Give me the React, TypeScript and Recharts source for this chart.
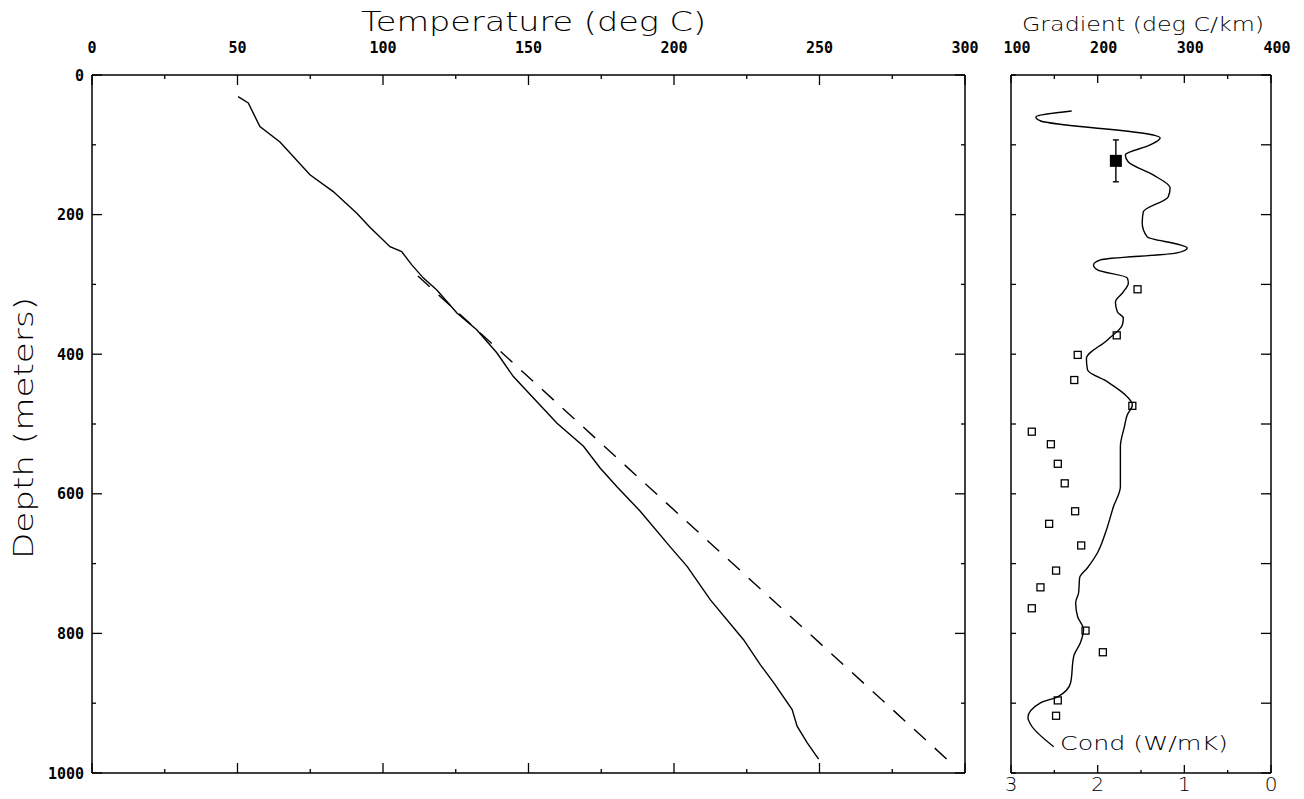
import React from 'react';
import { ErrorBar, Scatter, ScatterChart, XAxis, YAxis } from 'recharts';

const W = 1304;
const H = 799;

// temperature log (deg C vs depth m)
const tempDeg = [50.2, 53.7, 57.7, 64.6, 74.9, 82.9, 91.0, 95.5, 102.4, 106.4, 109.9, 113.9, 118.5, 125.4, 132.2, 139.1, 144.8, 152.9, 159.8, 168.9, 174.6, 180.4, 188.4, 198.7, 204.5, 212.5, 223.9, 229.7, 234.3, 240.6, 242.3, 245.8, 249.7];
const tempDepth = [31, 40, 74, 96, 143, 167, 198, 218, 246, 253, 272, 291, 308, 341, 365, 398, 432, 468, 499, 532, 563, 590, 625, 676, 704, 752, 809, 845, 871, 909, 933, 957, 980];

// straight fit (dashed)
const fitDeg = [112, 294.5];
const fitDepth = [288, 983];

// gradient log (deg C/km)
const gradValue = [170.0, 128.7, 134.4, 264.0, 272.1, 260.6, 231.9, 235.4, 264.0, 283.6, 281.3, 252.6, 251.4, 257.2, 295.0, 303.3, 291.6, 203.2, 195.2, 199.8, 234.2, 235.4, 229.6, 220.5, 222.8, 229.6, 228.5, 211.3, 187.0, 188.3, 211.3, 234.2, 240.0, 234.2, 230.8, 226.2, 226.2, 226.2, 218.2, 209.0, 199.8, 188.3, 179.2, 178.0, 174.6, 176.9, 183.7, 180.3, 172.3, 168.8, 153.9, 134.4, 119.5, 122.9, 149.3];
const gradDepth = [51.6, 60.1, 65.9, 85.9, 90.2, 100.2, 114.6, 124.6, 143.2, 161.8, 174.7, 196.2, 211.9, 232, 243.4, 247.7, 254.9, 264.9, 272.1, 279.2, 290.7, 297.9, 310.8, 325.1, 339.4, 348, 358, 379.5, 406.5, 422.4, 439.6, 461.1, 472.6, 486.9, 504.1, 532.7, 561.4, 590, 618.6, 655.9, 684.5, 706, 720.3, 741.8, 756.1, 776.2, 794.5, 812.8, 833.2, 870.7, 890.8, 899.3, 920.8, 930.9, 962.3];

// conductivity samples (W/mK)
const condValue = [1.54, 1.78, 2.23, 2.27, 1.6, 2.76, 2.54, 2.46, 2.38, 2.26, 2.56, 2.19, 2.48, 2.66, 2.76, 2.14, 1.94, 2.46, 2.48];
const condDepth = [307, 373, 401, 437, 474, 511, 529, 557, 585, 625, 643, 674, 710, 734, 764, 796, 827, 896, 918];

// mean gradient with depth interval
const meanGrad = [{ g: 221, d: 123, err: 30 }];

const tempTicks = [0, 25, 50, 75, 100, 125, 150, 175, 200, 225, 250, 275, 300];
const tempLabels = [0, 50, 100, 150, 200, 250, 300];
const depthTicks = [0, 100, 200, 300, 400, 500, 600, 700, 800, 900, 1000];
const depthLabels = [0, 200, 400, 600, 800, 1000];
const gradTicks = [100, 150, 200, 250, 300, 350, 400];
const gradLabels = [100, 200, 300, 400];
const condTicks = [0, 0.5, 1, 1.5, 2, 2.5, 3];
const condLabels = [0, 1, 2, 3];

const tempLog = tempDeg.map((t, i) => ({ t, d: tempDepth[i] }));
const tempFit = fitDeg.map((t, i) => ({ t, d: fitDepth[i] }));
const gradLog = gradValue.map((g, i) => ({ g, d: gradDepth[i] }));
const condPts = condValue.map((c, i) => ({ c, d: condDepth[i] }));

const mono = "'DejaVu Sans Mono', monospace";
const thin = "'DejaVu Sans', sans-serif";
const axisLine = { stroke: '#000', strokeWidth: 1.5 };

const makeTick =
  (side: string, majors: number[], labels: number[], long: number, short: number, dx = 0) =>
  (props: any) => {
    const { x, y, payload } = props;
    const v = payload.value;
    const len = majors.includes(v) ? long : short;
    let x2 = x;
    let y2 = y;
    if (side === 'top') y2 = y + len;
    if (side === 'bottom') y2 = y - len;
    if (side === 'left') x2 = x + len;
    if (side === 'right') x2 = x - len;
    let txt = null;
    if (labels.includes(v)) {
      if (side === 'top')
        txt = (
          <text x={x + dx} y={y - 22} textAnchor="middle" fontFamily={mono} fontWeight="bold" fontSize={15} fill="#000">
            {v}
          </text>
        );
      if (side === 'left')
        txt = (
          <text x={x - 8} y={y + 5.5} textAnchor="end" fontFamily={mono} fontWeight="bold" fontSize={15} fill="#000">
            {v}
          </text>
        );
      if (side === 'bottom')
        txt = (
          <text x={x} y={y + 18} textAnchor="middle" fontFamily={thin} fontWeight={200} fontSize={20} fill="#000">
            {v}
          </text>
        );
    }
    return (
      <g>
        <line x1={x} y1={y} x2={x2} y2={y2} stroke="#000" strokeWidth={1.3} />
        {txt}
      </g>
    );
  };

const noMark = () => <g />;
const openSquare = (p: any) => (
  <rect x={p.cx - 3.5} y={p.cy - 3.5} width={7} height={7} fill="none" stroke="#000" strokeWidth={1.3} />
);
const filledSquare = (p: any) => <rect x={p.cx - 6} y={p.cy - 6} width={12} height={12} fill="#000" />;

// axes are 1px thick boxes so the plot area equals the margins + 1
const axisCommon = {
  type: 'number' as const,
  interval: 0 as const,
  tickSize: 0,
  tickMargin: 0,
  tickLine: false,
  axisLine,
  allowDataOverflow: true,
};

export default function App() {
  return (
    <div style={{ position: 'absolute', left: 0, top: 0, width: W, height: H, background: '#fff' }}>
      <div style={{ position: 'absolute', left: 0, top: 0 }}>
        <ScatterChart width={W} height={H} margin={{ top: 74, right: 338, bottom: 25, left: 91 }}>
          <XAxis {...axisCommon} xAxisId="top" orientation="top" dataKey="t" domain={[0, 300]} ticks={tempTicks} height={1}
            tick={makeTick('top', tempLabels, tempLabels, 10, 4)} />
          <XAxis {...axisCommon} xAxisId="bot" orientation="bottom" dataKey="t" domain={[0, 300]} ticks={tempTicks} height={1}
            tick={makeTick('bottom', tempLabels, [], 10, 4)} />
          <YAxis {...axisCommon} yAxisId="left" orientation="left" dataKey="d" domain={[0, 1000]} reversed ticks={depthTicks} width={1}
            tick={makeTick('left', depthLabels, depthLabels, 10, 4)} />
          <YAxis {...axisCommon} yAxisId="right" orientation="right" dataKey="d" domain={[0, 1000]} reversed ticks={depthTicks} width={1}
            tick={makeTick('right', depthLabels, [], 10, 4)} />
          <Scatter xAxisId="top" yAxisId="left" data={tempLog} shape={noMark} line={{ stroke: '#000', strokeWidth: 1.4 }} isAnimationActive={false} />
          <Scatter xAxisId="top" yAxisId="left" data={tempFit} shape={noMark}
            line={{ stroke: '#000', strokeWidth: 1.4, strokeDasharray: '16 12' }} isAnimationActive={false} />
          <text x={361} y={31} fontFamily={thin} fontWeight={200} fontSize={26} textLength={345} lengthAdjust="spacingAndGlyphs" fill="#000">
            Temperature (deg C)
          </text>
          <text x={33} y={428} transform="rotate(-90 33 428)" textAnchor="middle" fontFamily={thin} fontWeight={200} fontSize={26}
            textLength={262} lengthAdjust="spacingAndGlyphs" fill="#000">
            Depth (meters)
          </text>
        </ScatterChart>
      </div>
      <div style={{ position: 'absolute', left: 0, top: 0 }}>
        <ScatterChart width={W} height={H} margin={{ top: 74, right: 32, bottom: 25, left: 1010 }}>
          <XAxis {...axisCommon} xAxisId="grad" orientation="top" dataKey="g" domain={[100, 400]} ticks={gradTicks} height={1}
            tick={makeTick('top', gradLabels, gradLabels, 8, 4, 6)} />
          <XAxis {...axisCommon} xAxisId="cond" orientation="bottom" dataKey="c" domain={[0, 3]} reversed ticks={condTicks} height={1}
            tick={makeTick('bottom', condLabels, condLabels, 8, 3)} />
          <YAxis {...axisCommon} yAxisId="left" orientation="left" dataKey="d" domain={[0, 1000]} reversed ticks={depthTicks} width={1}
            tick={makeTick('left', [], [], 10, 5)} />
          <YAxis {...axisCommon} yAxisId="right" orientation="right" dataKey="d" domain={[0, 1000]} reversed ticks={depthTicks} width={1}
            tick={makeTick('right', depthTicks, [], 10, 10)} />
          <Scatter xAxisId="grad" yAxisId="left" data={gradLog} shape={noMark} line={{ stroke: '#000', strokeWidth: 1.4 }}
            lineJointType="monotoneY" isAnimationActive={false} />
          <Scatter xAxisId="cond" yAxisId="left" data={condPts} shape={openSquare} isAnimationActive={false} />
          <Scatter xAxisId="grad" yAxisId="left" data={meanGrad} shape={filledSquare} isAnimationActive={false}>
            <ErrorBar dataKey="err" direction="y" width={3} stroke="#000" strokeWidth={1.4} />
          </Scatter>
          <text x={1022} y={31} fontFamily={thin} fontWeight={200} fontSize={20} textLength={242} lengthAdjust="spacingAndGlyphs" fill="#000">
            Gradient (deg C/km)
          </text>
          <text x={1060} y={750} fontFamily={thin} fontWeight={200} fontSize={20} textLength={168} lengthAdjust="spacingAndGlyphs" fill="#000">
            Cond (W/mK)
          </text>
        </ScatterChart>
      </div>
    </div>
  );
}
